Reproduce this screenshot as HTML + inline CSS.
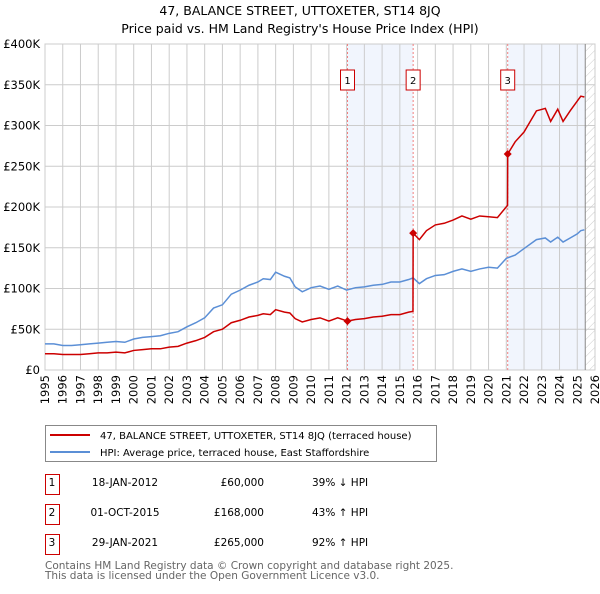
<!DOCTYPE html>
<html><head><meta charset="utf-8"><style>
body{margin:0;background:#fff;font-family:"DejaVu Sans","Liberation Sans",sans-serif;}
svg text{font-family:"DejaVu Sans","Liberation Sans",sans-serif;}
</style></head><body>
<svg id="c" width="600" height="590" xmlns="http://www.w3.org/2000/svg">
<defs><pattern id="hatch" width="6" height="6" patternUnits="userSpaceOnUse" patternTransform="rotate(45)"><line x1="0" y1="0" x2="0" y2="6" stroke="#ccc" stroke-width="1"/></pattern></defs>
<text x="300" y="15" text-anchor="middle" font-size="12.5">47, BALANCE STREET, UTTOXETER, ST14 8JQ</text>
<text x="300" y="33" text-anchor="middle" font-size="12.5">Price paid vs. HM Land Registry's House Price Index (HPI)</text>
<g id="plot"></g>
<g>
<rect x="45.5" y="425.5" width="391" height="36" fill="#fff" stroke="#888"/>
<line x1="50" y1="435" x2="90" y2="435" stroke="#cc0000" stroke-width="2"/>
<text x="100" y="439" font-size="10">47, BALANCE STREET, UTTOXETER, ST14 8JQ (terraced house)</text>
<line x1="50" y1="452" x2="90" y2="452" stroke="#5b8fd6" stroke-width="2"/>
<text x="100" y="456" font-size="10">HPI: Average price, terraced house, East Staffordshire</text>
</g>
<g id="tbl" font-size="10.5"></g>
<text x="45" y="569" font-size="10.5" fill="#666">Contains HM Land Registry data © Crown copyright and database right 2025.</text>
<text x="45" y="579" font-size="10.5" fill="#666">This data is licensed under the Open Government Licence v3.0.</text>
</svg>
<script>
const yTicks=[0,50,100,150,200,250,300,350,400];
const yTickLabels=["£0","£50K","£100K","£150K","£200K","£250K","£300K","£350K","£400K"];
const xYears=[1995,1996,1997,1998,1999,2000,2001,2002,2003,2004,2005,2006,2007,2008,2009,2010,2011,2012,2013,2014,2015,2016,2017,2018,2019,2020,2021,2022,2023,2024,2025,2026];
const hpiT=[1995,1995.5,1996,1996.5,1997,1997.5,1998,1998.5,1999,1999.5,2000,2000.5,2001,2001.5,2002,2002.5,2003,2003.5,2004,2004.5,2005,2005.5,2006,2006.5,2007,2007.3,2007.7,2008,2008.5,2008.8,2009.1,2009.5,2010,2010.5,2011,2011.5,2012,2012.5,2013,2013.5,2014,2014.5,2015,2015.5,2015.75,2016.1,2016.5,2017,2017.5,2018,2018.5,2019,2019.5,2020,2020.5,2021,2021.5,2022,2022.7,2023.2,2023.5,2023.9,2024.2,2024.6,2025,2025.2,2025.4];
const hpiV=[32,32,30,30,31,32,33,34,35,34,38,40,41,42,45,47,53,58,64,76,80,93,98,104,108,112,111,120,115,113,102,96,101,103,99,103,98,101,102,104,105,108,108,111,113,106,112,116,117,121,124,121,124,126,125,137,141,149,160,162,157,163,157,162,167,171,172];
const saleT=[2012.05,2015.75,2021.08];
const saleV=[60,168,265];
const redT=[1995,1995.5,1996,1996.5,1997,1997.5,1998,1998.5,1999,1999.5,2000,2000.5,2001,2001.5,2002,2002.5,2003,2003.5,2004,2004.5,2005,2005.5,2006,2006.5,2007,2007.3,2007.7,2008,2008.5,2008.8,2009.1,2009.5,2010,2010.5,2011,2011.5,2012.05,2012.5,2013,2013.5,2014,2014.5,2015,2015.5,2015.74,2015.75,2016.1,2016.5,2017,2017.5,2018,2018.5,2019,2019.5,2020,2020.5,2021.07,2021.08,2021.5,2022,2022.7,2023.2,2023.5,2023.9,2024.2,2024.6,2025,2025.2,2025.4];
const redV=[20,20,19,19,19,20,21,21,22,21,24,25,26,26,28,29,33,36,40,47,50,58,61,65,67,69,68,74,71,70,63,59,62,64,60,64,60,62,63,65,66,68,68,71,72,168,160,171,178,180,184,189,185,189,188,187,202,265,280,292,318,321,305,320,305,318,330,336,335];
const X=t=>45+(t-1995)*(550/31), Y=v=>370-v*0.815;
const ns="http://www.w3.org/2000/svg";
const p=document.getElementById('plot');
function mk(tag,at,parent){const e=document.createElementNS(ns,tag);for(const k in at)e.setAttribute(k,at[k]);(parent||p).appendChild(e);return e;}
// shaded spans: sale1->sale2, sale3->end
[[saleT[0],saleT[1]],[saleT[2],2025.45]].forEach((s,i)=>{const x1=X(s[0]),x2=X(s[1]);
const r=mk('rect',{x:x1,y:44,width:x2-x1,height:326,fill:'#f1f5fd'});

});
const h=mk('rect',{x:X(2025.45),y:44,width:595-X(2025.45),height:326,fill:'url(#hatch)'});


// grid
xYears.forEach(y=>{const l=mk('line',{x1:X(y),x2:X(y),y1:44,y2:370,stroke:'#ccc','stroke-width':1});


const t=mk('text',{x:0,y:0,'font-size':11.5,'text-anchor':'end',transform:`translate(${X(y)+4},375) rotate(-90)`});t.textContent=y;

});
yTicks.forEach((v,i)=>{const l=mk('line',{x1:45,x2:595,y1:Y(v),y2:Y(v),stroke:'#ccc','stroke-width':1});


const t=mk('text',{x:40,y:Y(v)+4,'font-size':11.5,'text-anchor':'end'});t.textContent=yTickLabels[i];

});
mk('rect',{x:45,y:44,width:550,height:326,fill:'none',stroke:'#ccc'});
mk('line',{x1:X(2025.45),x2:X(2025.45),y1:44,y2:370,stroke:'#888'});
// sale vlines + markers
saleT.forEach((t,i)=>{const l=mk('line',{x1:X(t),x2:X(t),y1:44,y2:370,stroke:'#f08080','stroke-dasharray':'2,2','stroke-width':1});


const b=mk('rect',{x:X(t)-7,y:70,width:14,height:20,fill:'#fff',stroke:'#cc0000'});


const tx=mk('text',{x:X(t),y:84,'font-size':10,'text-anchor':'middle'});tx.textContent=i+1;

});
const hp=mk('polyline',{points:hpiT.map((t,i)=>X(t)+','+Y(hpiV[i])).join(' '),fill:'none',stroke:'#5b8fd6','stroke-width':1.5});


const rp=mk('polyline',{points:redT.map((t,i)=>X(t)+','+Y(redV[i])).join(' '),fill:'none',stroke:'#cc0000','stroke-width':1.5});


saleT.forEach((t,i)=>{const d=mk('path',{d:`M${X(t)},${Y(saleV[i])-4}l4,4l-4,4l-4,-4z`,fill:'#cc0000'});

});
// table
const rows=[["1","18-JAN-2012","£60,000","39% ↓ HPI"],["2","01-OCT-2015","£168,000","43% ↑ HPI"],["3","29-JAN-2021","£265,000","92% ↑ HPI"]];
const tb=document.getElementById('tbl');
rows.forEach((r,i)=>{const y=483+i*30;
const b=mk('rect',{x:45.5,y:y-8.5,width:14,height:20,fill:'#fff',stroke:'#cc0000'},tb);


[[52,'middle',r[0]],[125,'middle',r[1]],[264,'end',r[2]],[312,'start',r[3]]].forEach(([x,a,s],j)=>{
const t=mk('text',{x:x,y:y+3,'text-anchor':a},tb);t.textContent=s;

});});
</script>
</body></html>
